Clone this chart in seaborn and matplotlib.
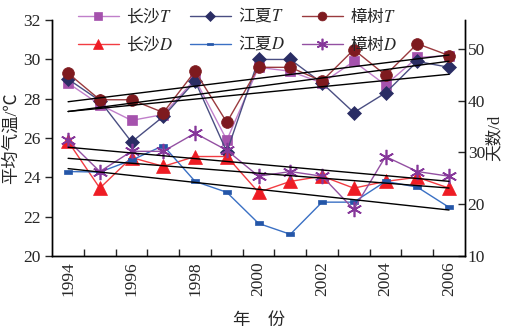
import matplotlib
matplotlib.use("Agg")
import matplotlib.pyplot as plt
from matplotlib.path import Path
import seaborn as sns
import numpy as np
import pandas as pd

years = np.arange(1994, 2007)

# mean temperature (left axis)
changsha_T = [28.8, 27.7, 26.9, 27.2, 29.0, 25.9, 29.6, 29.4, 28.8, 29.9, 28.7, 30.1, 30.2]
jiangxia_T = [29.0, 27.9, 25.8, 27.1, 28.9, 25.3, 30.0, 30.0, 28.8, 27.3, 28.3, 29.9, 29.6]
zhangshu_T = [29.3, 27.95, 27.95, 27.3, 29.4, 26.8, 29.6, 29.6, 28.9, 30.5, 29.2, 30.8, 30.2]

# number of days (right axis)
changsha_D = [32.1, 23.1, 29.0, 27.3, 29.2, 29.2, 22.3, 24.4, 25.4, 23.1, 24.4, 25.2, 23.1]
jiangxia_D = [26.3, 26.2, 28.5, 31.3, 24.4, 22.3, 16.3, 14.2, 20.4, 20.4, 24.4, 23.3, 19.4]
zhangshu_D = [32.3, 26.3, 30.2, 30.2, 33.7, 30.4, 25.4, 26.3, 25.4, 19.0, 29.2, 26.3, 25.4]

sns.set_style("ticks")
plt.rcParams['font.family'] = ['Liberation Serif', 'Noto Sans CJK SC']
plt.rcParams['mathtext.fontset'] = 'stix'

fig = plt.figure(figsize=(5.07, 3.30), dpi=100)
ax = fig.add_axes([0.103, 0.224, 0.814, 0.715])
ax2 = ax.twinx()

# small flat rectangle marker used for 江夏D
dash = Path([(-1, -0.45), (1, -0.45), (1, 0.45), (-1, 0.45), (-1, -0.45)],
            [Path.MOVETO, Path.LINETO, Path.LINETO, Path.LINETO, Path.CLOSEPOLY])

# axis, values, label, line colour, marker colour, marker, size
series = [
    (ax, changsha_T, '长沙$\\mathit{T}$', '#c07fca', '#a552ad', 's', 7.5),
    (ax, jiangxia_T, '江夏$\\mathit{T}$', '#4a4e82', '#2a2d64', 'D', 7),
    (ax, zhangshu_T, '樟树$\\mathit{T}$', '#9a3a3e', '#7e1a1f', 'o', 8.5),
    (ax2, changsha_D, '长沙$\\mathit{D}$', '#f23c42', '#ee1c24', '^', 9.5),
    (ax2, jiangxia_D, '江夏$\\mathit{D}$', '#3a70c4', '#2456a8', dash, 6),
    (ax2, zhangshu_D, '樟树$\\mathit{D}$', '#9350a2', '#86379a', (6, 2, 0), 11),
]

handles = []
for a, vals, lab, col, mcol, mk, ms in series:
    sns.lineplot(x=years, y=vals, ax=a, color=col, lw=1, marker=mk, markersize=ms,
                 markerfacecolor=mcol, markeredgecolor=mcol,
                 markeredgewidth=1.2 if mk == (6, 2, 0) else 0.5,
                 label=lab, legend=False)
    handles.append(a.lines[-1])

# linear trend lines
for a, vals, lab, col, mcol, mk, ms in series:
    df = pd.DataFrame({'year': years, 'v': vals})
    sns.regplot(data=df, x='year', y='v', ax=a, scatter=False, ci=None, truncate=True,
                line_kws={'color': 'black', 'lw': 1})

ax.set_xlim(1993.5, 2006.5)
ax.set_ylim(20, 32)
ax2.set_ylim(10, 55.5)
ax.set_xticks(np.arange(1994, 2007, 2))
ax.set_xticklabels([str(y) for y in range(1994, 2007, 2)], rotation=90)
ax.set_xticks(np.arange(1994.5, 2006, 1), minor=True)
ax.tick_params(axis='x', which='major', length=0, labelsize=12.5, pad=4)
ax.tick_params(axis='x', which='minor', direction='in', length=5, width=1)
ax.set_yticks([20, 22, 24, 26, 28, 30, 32])
ax.tick_params(axis='y', direction='out', length=5, width=1, labelsize=12.5)
ax2.set_yticks([10, 20, 30, 40, 50])
ax2.tick_params(axis='y', direction='in', length=5, width=1, labelsize=12.5, pad=2)

for a in (ax, ax2):
    for s in a.spines.values():
        s.set_linewidth(1)
        s.set_color('black')
ax2.spines['top'].set_visible(False)
ax.spines['top'].set_visible(False)

ax.set_xlabel('年　份', fontsize=12.5, labelpad=12)
ax.set_ylabel('平均气温/℃', fontsize=12.5, labelpad=2)
ax2.set_ylabel('天数/d', fontsize=12, labelpad=1)

order = [0, 3, 1, 4, 2, 5]
fig.legend([handles[i] for i in order], [series[i][2] for i in order], ncol=3,
           loc='upper left', bbox_to_anchor=(0.13, 1.015), frameon=False,
           prop={'family': 'Noto Sans CJK SC', 'size': 12}, markerscale=0.75,
           handlelength=2.5, columnspacing=1.0, handletextpad=0.4, labelspacing=0.55,
           borderpad=0.2)

fig.savefig('out.png', dpi=100)
